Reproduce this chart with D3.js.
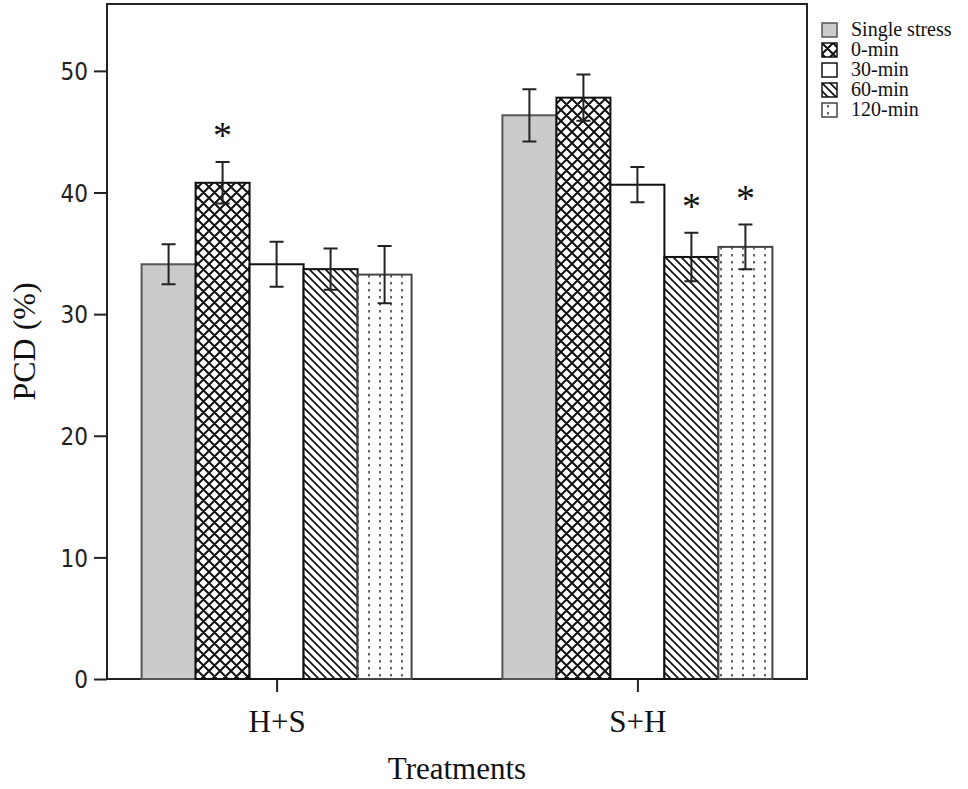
<!DOCTYPE html>
<html lang="en">
<head>
  <meta charset="UTF-8">
  <title>PCD by treatment</title>
  <style>
    body { margin:0; background:#fff; }
    #chart { display:block; }
    .serif { font-family:"Liberation Serif","Times New Roman",serif; fill:#111; }
    .tick-lbl { font-family:"DejaVu Sans Condensed","DejaVu Sans",sans-serif; fill:#222; }
  </style>
</head>
<body>
  <svg id="chart" width="968" height="789"></svg>
  <script src="https://d3js.org/d3.v7.min.js"></script>
  <script>
    const categories = ["H+S", "S+H"];
    const series = ["Single stress", "0-min", "30-min", "60-min", "120-min"];
    const meansHS = [34.1, 40.8, 34.1, 33.7, 33.25];
    const meansSH = [46.35, 47.8, 40.64, 34.7, 35.53];
    const errHS = [1.65, 1.7, 1.85, 1.7, 2.35];
    const errSH = [2.15, 1.9, 1.45, 2.0, 1.83];
    const starsHS = [false, true, false, false, false];
    const starsSH = [false, false, false, true, true];
    const yTicks = [0, 10, 20, 30, 40, 50];

    const means = [meansHS, meansSH], errs = [errHS, errSH], stars = [starsHS, starsSH];
    const rows = [];
    categories.forEach((c, ci) => series.forEach((s, si) => rows.push({
      cat: c, ser: s, v: means[ci][si], e: errs[ci][si], star: stars[ci][si]
    })));

    const svg = d3.select('#chart');
    const L = 107, R = 807, T = 4, B = 679;

    const y = d3.scaleLinear().domain([0, 55.5]).range([B, T]);
    const x0 = d3.scalePoint().domain(categories).range([L, R]).padding(0.47);
    const groupW = 270;
    const x1 = d3.scaleBand().domain(series).range([-groupW / 2, groupW / 2]).padding(0);
    const cx = d => x0(d.cat) + x1(d.ser) + x1.bandwidth() / 2;

    // fill patterns
    const defs = svg.append('defs');
    const cross = defs.append('pattern').attr('id', 'p-cross').attr('patternUnits', 'userSpaceOnUse')
      .attr('width', 11).attr('height', 11);
    cross.append('rect').attr('width', 11).attr('height', 11).attr('fill', '#fff');
    cross.append('path').attr('d', 'M0,0L11,11M11,0L0,11M-1,10L1,12M10,-1L12,1M-1,1L1,-1M10,12L12,10')
      .attr('stroke', '#111').attr('stroke-width', 2);

    const diag = defs.append('pattern').attr('id', 'p-diag').attr('patternUnits', 'userSpaceOnUse')
      .attr('width', 8).attr('height', 8);
    diag.append('rect').attr('width', 8).attr('height', 8).attr('fill', '#fff');
    diag.append('path').attr('d', 'M0,0L8,8M-4,4L4,12M4,-4L12,4')
      .attr('stroke', '#111').attr('stroke-width', 1.7);

    const dots = defs.append('pattern').attr('id', 'p-dots').attr('patternUnits', 'userSpaceOnUse')
      .attr('width', 11).attr('height', 7);
    dots.append('rect').attr('width', 11).attr('height', 7).attr('fill', '#fff');
    dots.append('rect').attr('x', 5).attr('y', 2).attr('width', 2).attr('height', 2.5).attr('fill', '#666');

    const fills = {
      "Single stress": '#cbcbcb', "0-min": 'url(#p-cross)', "30-min": '#fff',
      "60-min": 'url(#p-diag)', "120-min": 'url(#p-dots)'
    };
    const strokes = {
      "Single stress": '#555', "0-min": '#111', "30-min": '#111', "60-min": '#111', "120-min": '#444'
    };

    // frame
    svg.append('rect').attr('x', L).attr('y', T).attr('width', R - L).attr('height', B - T)
      .attr('fill', 'none').attr('stroke', '#222').attr('stroke-width', 2);

    // bars
    const g = svg.append('g');
    g.selectAll('rect.bar').data(rows).join('rect').attr('class', 'bar')
      .attr('x', d => x0(d.cat) + x1(d.ser))
      .attr('y', d => y(d.v))
      .attr('width', x1.bandwidth())
      .attr('height', d => B - y(d.v))
      .attr('fill', d => fills[d.ser])
      .attr('stroke', d => strokes[d.ser])
      .attr('stroke-width', 2);

    // error bars
    const cap = 7;
    g.selectAll('path.err').data(rows).join('path').attr('class', 'err')
      .attr('d', d => {
        const x = cx(d), t = y(d.v + d.e), b = y(d.v - d.e);
        return `M${x},${t}V${b}M${x - cap},${t}H${x + cap}M${x - cap},${b}H${x + cap}`;
      })
      .attr('stroke', '#222').attr('stroke-width', 2).attr('fill', 'none');

    // significance marks
    g.selectAll('text.star').data(rows.filter(d => d.star)).join('text').attr('class', 'star serif')
      .attr('x', cx)
      .attr('y', d => y(d.v + d.e) - 14)
      .attr('text-anchor', 'middle')
      .style('font-size', '38px')
      .text('*');

    // y axis
    const yAxis = svg.append('g').attr('transform', `translate(${L},0)`)
      .call(d3.axisLeft(y).tickValues(yTicks).tickSize(13).tickPadding(6));
    yAxis.select('.domain').remove();
    yAxis.selectAll('line').attr('stroke', '#222').attr('stroke-width', 2);
    yAxis.selectAll('text').attr('class', 'tick-lbl').attr('fill', null)
      .style('font-size', '24px').attr('dy', '0.36em');

    // x axis
    const xAxis = svg.append('g').attr('transform', `translate(0,${B})`)
      .call(d3.axisBottom(x0).tickSize(13).tickPadding(18));
    xAxis.select('.domain').remove();
    xAxis.selectAll('line').attr('stroke', '#222').attr('stroke-width', 2);
    xAxis.selectAll('text').attr('class', 'serif').attr('fill', null).style('font-size', '31px');

    // axis titles
    svg.append('text').attr('class', 'serif').attr('text-anchor', 'middle')
      .attr('transform', `translate(35,${(T + B) / 2}) rotate(-90)`)
      .style('font-size', '32px').text('PCD (%)');
    svg.append('text').attr('class', 'serif').attr('text-anchor', 'middle')
      .attr('x', (L + R) / 2).attr('y', 779)
      .style('font-size', '31px').text('Treatments');

    // legend
    const leg = svg.append('g').attr('transform', 'translate(822,23)');
    const li = leg.selectAll('g').data(series).join('g')
      .attr('transform', (d, i) => `translate(0,${i * 20})`);
    li.append('rect').attr('width', 15).attr('height', 14)
      .attr('fill', d => fills[d]).attr('stroke', d => strokes[d]).attr('stroke-width', 1.5);
    li.append('text').attr('class', 'serif').attr('x', 29).attr('y', 13)
      .style('font-size', '20px').text(d => d);
  </script>
</body>
</html>
